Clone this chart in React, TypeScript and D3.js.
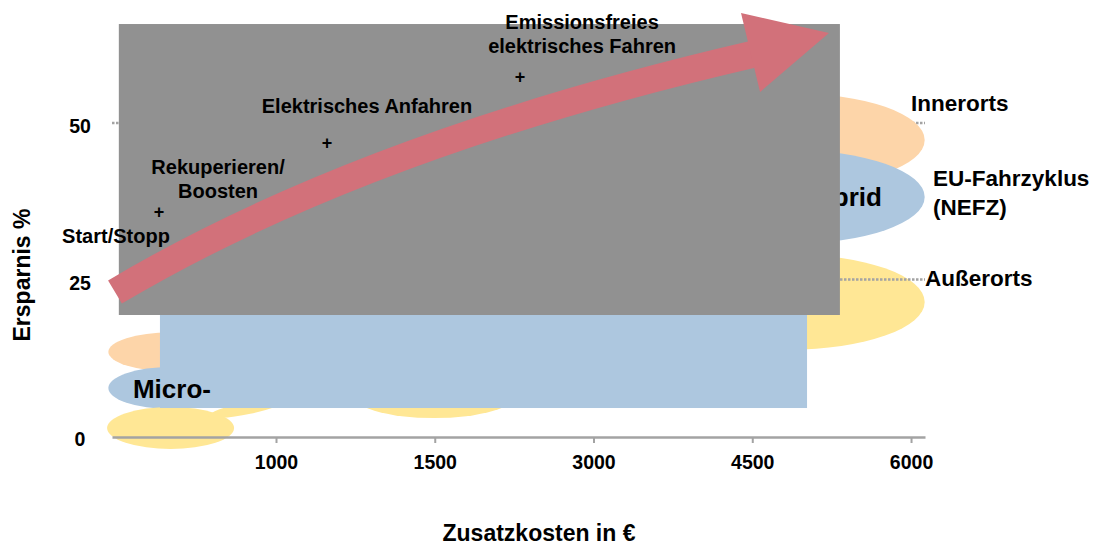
import React, { useEffect, useRef } from 'react';
import * as d3 from 'd3';

const W = 1101;
const H = 545;

// x axis: categorical cost positions (index 1..5)
const xTickPos = [1, 2, 3, 4, 5];
const xTickLabels = ['1000', '1500', '3000', '4500', '6000'];
const xAxisExtent = [-0.033, 5.088];
// y axis: savings in %
const yTicks = [0, 25, 50];
const gridBelow = [50];
const gridAbove = [25];

// bubbles (driving cycles per hybrid class), in data units
const bubbleCycle = ['inner', 'nefz', 'ausser', 'inner', 'nefz', 'ausser', 'ausser', 'ausser'];
const bubbleX = [0.334, 0.334, 0.336, 4.236, 4.236, 4.236, 1.995, 0.83];
const bubbleY = [13.6, 7.83, 1.44, 47.44, 38.34, 21.57, 7.03, 4.7];
const bubbleRx = [0.39, 0.39, 0.4, 0.85, 0.85, 0.85, 0.53, 0.26];
const bubbleRy = [3.1, 3.35, 3.35, 7.5, 7.5, 7.6, 4.0, 1.0];
const bubbleTilt = [0, 0, 0, 0, 0, 0, 0, -12];

// overlay boxes [i0, i1, v0, v1]
const grayBox = [0.01, 4.552, 19.49, 65.97];
const blueBox = [0.269, 4.345, 4.63, 19.49];

// class labels
const classNames = ['Micro-', 'Voll-Hybrid'];
const classX = [0.099, 4.817];
const classY = [7.67, 38.34];

// technology milestones
const crossX = [0.263, 1.321, 2.537];
const crossY = [35.94, 46.96, 57.51];
const noteLines = [['Start/Stopp'], ['Rekuperieren/', 'Boosten'], ['Elektrisches Anfahren'], ['Emissionsfreies', 'elektrisches Fahren']];
const noteX = [-0.008, 0.635, 1.573, 2.928];
const noteY = [32.11, 43.13, 52.88, 66.29];

// cycle legend labels
const cycleLines = [['Innerorts'], ['EU-Fahrzyklus', '(NEFZ)'], ['Außerorts']];
const cycleX = [5.0, 5.139, 5.088];
const cycleY = [53.35, 41.37, 25.4];

// trend arrow (start, control, end) and head
const arrowShaftI = [-0.0142, 1.542, 3.998];
const arrowShaftV = [23.16, 46.65, 61.1];
const arrowHeadI = [3.929, 4.483, 4.049];
const arrowHeadV = [67.73, 64.54, 55.11];

const colors: Record<string, string> = {
  inner: '#fdd5a9',
  nefz: '#adc7df',
  ausser: '#ffe795',
};

export default function App() {
  const ref = useRef<SVGSVGElement>(null);
  useEffect(() => {
    const svg = d3.select(ref.current);
    svg.selectAll('*').remove();
    const font = "'Liberation Sans', Arial, Helvetica, sans-serif";
    svg.attr('font-family', font).attr('font-weight', 'bold');

    const x = d3.scaleLinear().domain(xAxisExtent).range([112, 925]);
    const y = d3.scaleLinear().domain([0, 50]).range([437, 124]);
    const dx = (d: number) => x(d) - x(0);
    const dy = (d: number) => y(0) - y(d);

    const grid = (v: number) =>
      svg
        .append('line')
        .attr('x1', x(xAxisExtent[0]))
        .attr('x2', x(xAxisExtent[1]))
        .attr('y1', y(v) - 1)
        .attr('y2', y(v) - 1)
        .attr('stroke', '#a3a3a3')
        .attr('stroke-width', 2.5)
        .attr('stroke-dasharray', '2.5,1.5');

    gridBelow.forEach(grid);

    // bubbles
    svg
      .append('g')
      .selectAll('ellipse')
      .data(bubbleX.map((_, k) => k))
      .join('ellipse')
      .attr('cx', (k) => x(bubbleX[k]))
      .attr('cy', (k) => y(bubbleY[k]))
      .attr('rx', (k) => dx(bubbleRx[k]))
      .attr('ry', (k) => dy(bubbleRy[k]))
      .attr('transform', (k) => `rotate(${bubbleTilt[k]},${x(bubbleX[k])},${y(bubbleY[k])})`)
      .attr('fill', (k) => colors[bubbleCycle[k]]);

    gridAbove.forEach(grid);

    // blue box
    svg
      .append('rect')
      .attr('x', x(blueBox[0]))
      .attr('width', x(blueBox[1]) - x(blueBox[0]))
      .attr('y', y(blueBox[3]))
      .attr('height', y(blueBox[2]) - y(blueBox[3]))
      .attr('fill', '#adc7df');

    // class labels
    classNames.forEach((t, k) => {
      svg
        .append('text')
        .attr('x', x(classX[k]))
        .attr('y', y(classY[k]))
        .attr('dy', '0.36em')
        .attr('text-anchor', k === 0 ? 'start' : 'end')
        .attr('font-size', 26)
        .attr('fill', '#000')
        .text(t);
    });

    // x axis
    const axis = d3
      .axisBottom(x)
      .tickValues(xTickPos)
      .tickFormat((d, k) => xTickLabels[k])
      .tickSize(6)
      .tickSizeOuter(0)
      .tickPadding(12);
    const ax = svg.append('g').attr('transform', `translate(0,${y(0)})`).call(axis);
    ax.select('.domain').attr('stroke', '#a3a3a3').attr('stroke-width', 2.5);
    ax.selectAll('.tick line').attr('stroke', '#a3a3a3').attr('stroke-width', 2);
    ax.selectAll('.tick text')
      .attr('fill', '#000')
      .attr('font-size', 19.5)
      .attr('font-family', font)
      .attr('font-weight', 'bold');

    // y tick labels
    yTicks.forEach((v) => {
      svg
        .append('text')
        .attr('x', 80)
        .attr('y', y(v) + 2)
        .attr('dy', '0.36em')
        .attr('text-anchor', 'middle')
        .attr('font-size', 19.5)
        .text(String(v));
    });

    // gray box
    svg
      .append('rect')
      .attr('x', x(grayBox[0]))
      .attr('width', x(grayBox[1]) - x(grayBox[0]))
      .attr('y', y(grayBox[3]))
      .attr('height', y(grayBox[2]) - y(grayBox[3]))
      .attr('fill', '#919191');

    // arrow
    const p = d3.path();
    p.moveTo(x(arrowShaftI[0]), y(arrowShaftV[0]));
    p.quadraticCurveTo(x(arrowShaftI[1]), y(arrowShaftV[1]), x(arrowShaftI[2]), y(arrowShaftV[2]));
    svg
      .append('path')
      .attr('d', p.toString())
      .attr('fill', 'none')
      .attr('stroke', '#d2717a')
      .attr('stroke-width', 27);
    const head = d3.line<number>()
      .x((k) => x(arrowHeadI[k]))
      .y((k) => y(arrowHeadV[k]));
    svg
      .append('path')
      .attr('d', head([0, 1, 2]) + 'Z')
      .attr('fill', '#d2717a');

    // crosses
    crossX.forEach((cx, k) => {
      svg
        .append('text')
        .attr('x', x(cx))
        .attr('y', y(crossY[k]))
        .attr('dy', '0.33em')
        .attr('text-anchor', 'middle')
        .attr('font-size', 18)
        .text('+');
    });

    // notes
    noteLines.forEach((lines, k) => {
      lines.forEach((ln, j) => {
        svg
          .append('text')
          .attr('x', x(noteX[k]))
          .attr('y', y(noteY[k]) + j * 24)
          .attr('dy', '0.36em')
          .attr('text-anchor', 'middle')
          .attr('font-size', 20)
          .text(ln);
      });
    });

    // cycle labels
    cycleLines.forEach((lines, k) => {
      lines.forEach((ln, j) => {
        svg
          .append('text')
          .attr('x', x(cycleX[k]))
          .attr('y', y(cycleY[k]) + j * 29)
          .attr('dy', '0.36em')
          .attr('text-anchor', 'start')
          .attr('font-size', 22.5)
          .text(ln);
      });
    });

    // axis titles
    svg
      .append('text')
      .attr('x', 539)
      .attr('y', 533)
      .attr('dy', '0.36em')
      .attr('text-anchor', 'middle')
      .attr('font-size', 23)
      .text('Zusatzkosten in €');
    svg
      .append('text')
      .attr('transform', 'translate(22,275) rotate(-90)')
      .attr('dy', '0.36em')
      .attr('text-anchor', 'middle')
      .attr('font-size', 23)
      .text('Ersparnis %');
  }, []);

  return (
    <svg
      ref={ref}
      width={W}
      height={H}
      style={{ position: 'absolute', left: 0, top: 0, background: '#fff', display: 'block' }}
    />
  );
}
